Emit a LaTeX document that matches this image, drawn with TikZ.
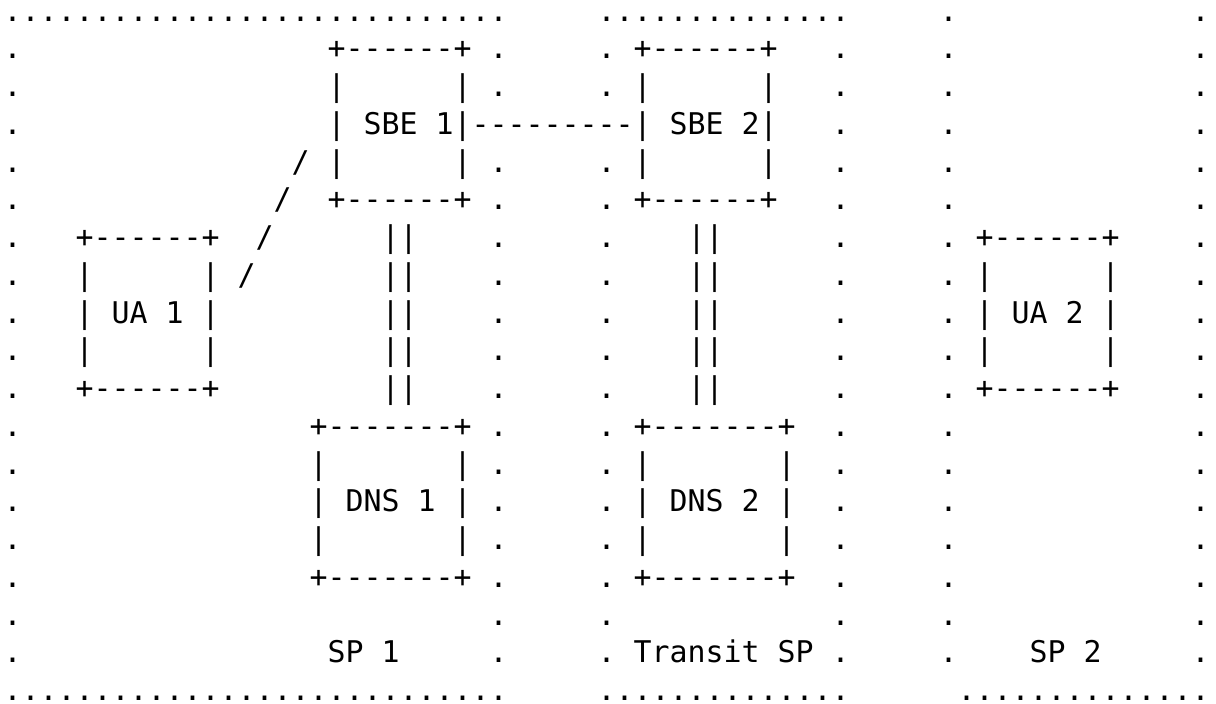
\documentclass[tikz,border=0pt]{standalone}
\usepackage{fontspec}
\setmonofont{DejaVu Sans Mono}
\newcommand\sk[1]{\hskip#1\dimexpr9pt\relax}
\newcommand\tendots{..........}
\tikzset{
  asciirow/.style={anchor=base west, inner sep=0pt, outer sep=0pt,
    font=\ttfamily\fontsize{14.949}{18}\selectfont, text=black}
}
\begin{document}
\begin{tikzpicture}[x=0.5pt,y=-0.5pt]
\fill[white] (0,0) rectangle (1216,703);
\useasboundingbox (0,0) rectangle (1216,703);
\node[asciirow] (r0)  at (3.7,21.2)   {\tendots\tendots........\sk{5}\tendots....\sk{5}.\sk{13}.};
\node[asciirow] (r1)  at (3.7,58.95)  {.\sk{17}+------+\sk{1}.\sk{5}.\sk{1}+------+\sk{3}.\sk{5}.\sk{13}.};
\node[asciirow] (r2)  at (3.7,96.7)   {.\sk{17}|\sk{6}|\sk{1}.\sk{5}.\sk{1}|\sk{6}|\sk{3}.\sk{5}.\sk{13}.};
\node[asciirow] (r3)  at (3.7,134.45) {.\sk{17}|\sk{1}SBE\sk{1}1|---------|\sk{1}SBE\sk{1}2|\sk{3}.\sk{5}.\sk{13}.};
\node[asciirow] (r4)  at (3.7,172.2)  {.\sk{15}/\sk{1}|\sk{6}|\sk{1}.\sk{5}.\sk{1}|\sk{6}|\sk{3}.\sk{5}.\sk{13}.};
\node[asciirow] (r5)  at (3.7,209.95) {.\sk{14}/\sk{2}+------+\sk{1}.\sk{5}.\sk{1}+------+\sk{3}.\sk{5}.\sk{13}.};
\node[asciirow] (r6)  at (3.7,247.7)  {.\sk{3}+------+\sk{2}/\sk{6}||\sk{4}.\sk{5}.\sk{4}||\sk{6}.\sk{5}.\sk{1}+------+\sk{4}.};
\node[asciirow] (r7)  at (3.7,285.45) {.\sk{3}|\sk{6}|\sk{1}/\sk{7}||\sk{4}.\sk{5}.\sk{4}||\sk{6}.\sk{5}.\sk{1}|\sk{6}|\sk{4}.};
\node[asciirow] (r8)  at (3.7,323.2)  {.\sk{3}|\sk{1}UA\sk{1}1\sk{1}|\sk{9}||\sk{4}.\sk{5}.\sk{4}||\sk{6}.\sk{5}.\sk{1}|\sk{1}UA\sk{1}2\sk{1}|\sk{4}.};
\node[asciirow] (r9)  at (3.7,360.95) {.\sk{3}|\sk{6}|\sk{9}||\sk{4}.\sk{5}.\sk{4}||\sk{6}.\sk{5}.\sk{1}|\sk{6}|\sk{4}.};
\node[asciirow] (r10) at (3.7,398.7)  {.\sk{3}+------+\sk{9}||\sk{4}.\sk{5}.\sk{4}||\sk{6}.\sk{5}.\sk{1}+------+\sk{4}.};
\node[asciirow] (r11) at (3.7,436.45) {.\sk{16}+-------+\sk{1}.\sk{5}.\sk{1}+-------+\sk{2}.\sk{5}.\sk{13}.};
\node[asciirow] (r12) at (3.7,474.2)  {.\sk{16}|\sk{7}|\sk{1}.\sk{5}.\sk{1}|\sk{7}|\sk{2}.\sk{5}.\sk{13}.};
\node[asciirow] (r13) at (3.7,511.95) {.\sk{16}|\sk{1}DNS\sk{1}1\sk{1}|\sk{1}.\sk{5}.\sk{1}|\sk{1}DNS\sk{1}2\sk{1}|\sk{2}.\sk{5}.\sk{13}.};
\node[asciirow] (r14) at (3.7,549.7)  {.\sk{16}|\sk{7}|\sk{1}.\sk{5}.\sk{1}|\sk{7}|\sk{2}.\sk{5}.\sk{13}.};
\node[asciirow] (r15) at (3.7,587.45) {.\sk{16}+-------+\sk{1}.\sk{5}.\sk{1}+-------+\sk{2}.\sk{5}.\sk{13}.};
\node[asciirow] (r16) at (3.7,625.2)  {.\sk{26}.\sk{5}.\sk{12}.\sk{5}.\sk{13}.};
\node[asciirow] (r17) at (3.7,662.95) {.\sk{17}SP\sk{1}1\sk{5}.\sk{5}.\sk{1}Transit\sk{1}SP\sk{1}.\sk{5}.\sk{4}SP\sk{1}2\sk{5}.};
\node[asciirow] (r18) at (3.7,700.7)  {\tendots\tendots........\sk{5}\tendots....\sk{6}\tendots....};
\end{tikzpicture}
\end{document}
